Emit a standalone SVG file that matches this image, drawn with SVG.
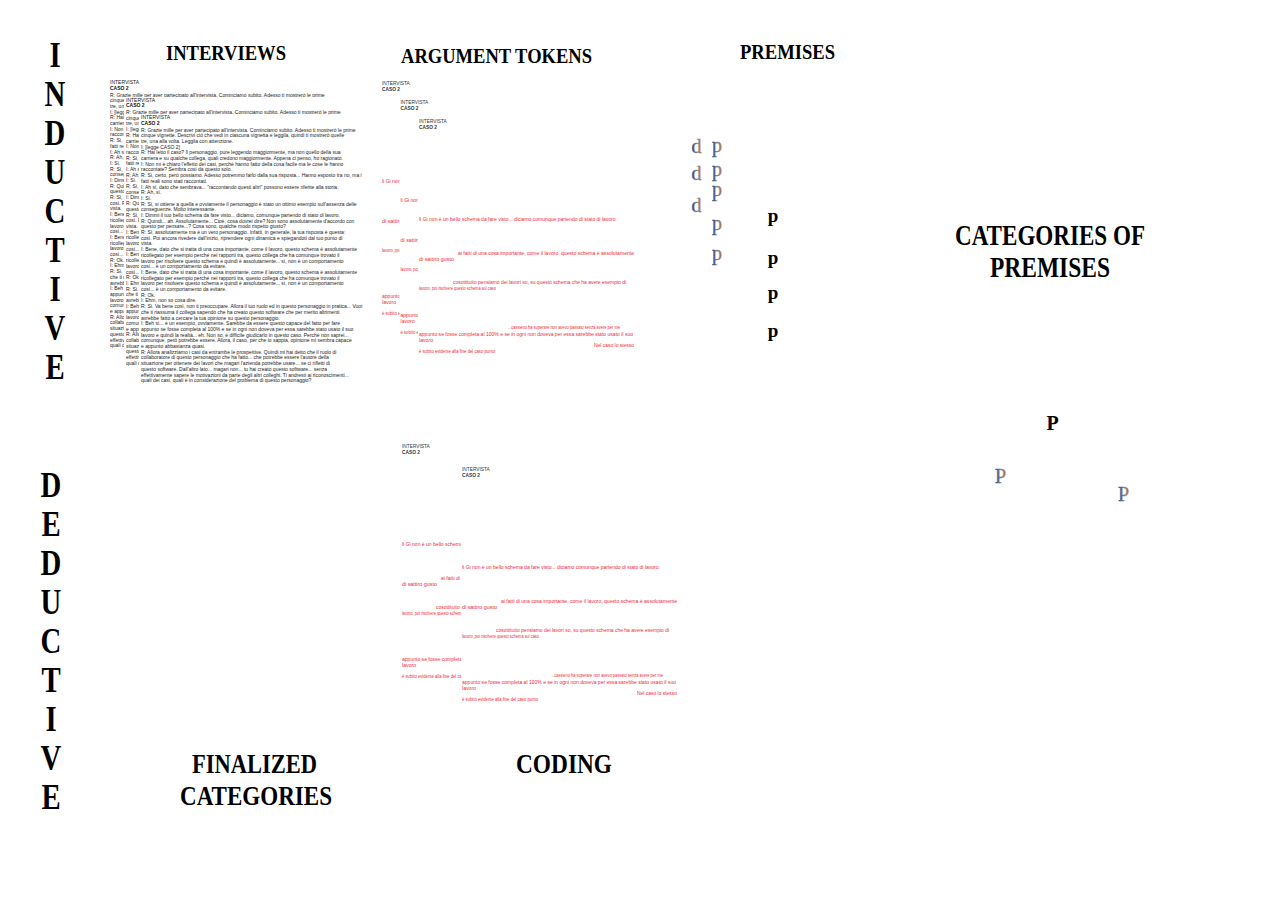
<svg xmlns="http://www.w3.org/2000/svg" width="1274" height="900" viewBox="0 0 1274 900">
<style>
.hd{font-family:"Liberation Serif","Times New Roman",serif;font-weight:bold;fill:#000}
.vl{font-family:"Liberation Serif","Times New Roman",serif;font-weight:bold;font-size:36px;fill:#000;text-anchor:middle}
.iv{font-family:"Liberation Sans",Arial,sans-serif;font-size:5px;fill:#222}
.ivb{font-weight:bold;fill:#111}
.tkh{font-family:"Liberation Sans",Arial,sans-serif;font-size:4.8px;fill:#333}
.tk{font-family:"Liberation Sans",Arial,sans-serif;font-size:4.8px;fill:#ee2b3b}
.ch{font-family:"Liberation Serif","Times New Roman",serif;font-size:20px;fill:url(#chroma);stroke:url(#chroma);stroke-width:0.35;text-anchor:middle}
.bp{font-family:"Liberation Serif","Times New Roman",serif;font-weight:bold;font-size:19px;fill:#000;text-anchor:middle}
.bg{fill:#fff}
</style>
<defs>
<linearGradient id="chroma" x1="0" y1="0" x2="1" y2="0">
<stop offset="0" stop-color="#123a8c"/>
<stop offset="0.3" stop-color="#546a8f"/>
<stop offset="0.65" stop-color="#858b94"/>
<stop offset="1" stop-color="#b8681e"/>
</linearGradient>
<g id="ivBlock">
<rect class="bg" x="-2" y="-4.5" width="240" height="272"/>
<text class="iv" x="0" y="0">INTERVISTA</text>
<text class="iv ivb" x="0" y="5.5">CASO 2</text>
<text class="iv" y="12.5">
<tspan x="0" dy="0">R: Grazie mille per aver partecipato all'intervista. Cominciamo subito. Adesso ti mostrerò le prime</tspan>
<tspan x="0" dy="5.7">cinque vignette. Descrivi ciò che vedi in ciascuna vignetta e leggila, quindi ti mostrerò quelle</tspan>
<tspan x="0" dy="5.7">tre, una alla volta. Leggila con attenzione.</tspan>
<tspan x="0" dy="5.7">I: [legge CASO 2]</tspan>
<tspan x="0" dy="5.7">R: Hai letto il caso? Il personaggio, pure leggendo maggiormente, ma non quello della sua</tspan>
<tspan x="0" dy="5.7">carriera e su qualche collega, quali credono maggiormente. Appena ci penso, ho ragionato.</tspan>
<tspan x="0" dy="5.7">I: Non mi è chiaro l'effetto dei casi, perché hanno fatto della cosa facile ma le cose le hanno</tspan>
<tspan x="0" dy="5.7">raccontate? Sembra così da questo solo.</tspan>
<tspan x="0" dy="5.7">R: Sì, certo, però possiamo. Adesso potremmo farlo dalla sua risposta... Hanno esposto tra no, ma i</tspan>
<tspan x="0" dy="5.7">fatti reali sono stati raccontati.</tspan>
<tspan x="0" dy="5.7">I: Ah sì, dato che sembrava... "raccontando questi altri" possono essere riferite alla storia.</tspan>
<tspan x="0" dy="5.7">R: Ah, sì.</tspan>
<tspan x="0" dy="5.7">I: Sì.</tspan>
<tspan x="0" dy="5.7">R: Sì, si ottiene a quella e ovviamente il personaggio è stato un ottimo esempio sull'assenza delle</tspan>
<tspan x="0" dy="5.7">conseguenze. Molto interessante.</tspan>
<tspan x="0" dy="5.7">I: Dimmi il tuo bello schema da fare visto... diciamo, comunque partendo di stato di lavoro.</tspan>
<tspan x="0" dy="5.7">R: Quindi... ah. Assolutamente... Cioè, cosa dovrei dire? Non sono assolutamente d'accordo con</tspan>
<tspan x="0" dy="5.7">questo per pensare...? Cosa sono, qualche modo rispetto giusto?</tspan>
<tspan x="0" dy="5.7">R: Sì, assolutamente ma è un vero personaggio. Infatti, in generale, la tua risposta è questa:</tspan>
<tspan x="0" dy="5.7">così. Poi ancora rivedere dall'inizio, riprendere ogni dinamica e spiegandoti dal tuo punto di</tspan>
<tspan x="0" dy="5.7">vista.</tspan>
<tspan x="0" dy="5.7">I: Bene, dato che si tratta di una cosa importante, come il lavoro, questo schema è assolutamente</tspan>
<tspan x="0" dy="5.7">ricollegato per esempio perché nei rapporti tra, questo collega che ha comunque trovato il</tspan>
<tspan x="0" dy="5.7">lavoro per risolvere questo schema e quindi è assolutamente... sì, non è un comportamento</tspan>
<tspan x="0" dy="5.7">così... è un comportamento da evitare.</tspan>
<tspan x="0" dy="5.7">I: Bene, dato che si tratta di una cosa importante, come il lavoro, questo schema è assolutamente</tspan>
<tspan x="0" dy="5.7">ricollegato per esempio perché nei rapporti tra, questo collega che ha comunque trovato il</tspan>
<tspan x="0" dy="5.7">lavoro per risolvere questo schema e quindi è assolutamente... sì, non è un comportamento</tspan>
<tspan x="0" dy="5.7">così... è un comportamento da evitare.</tspan>
<tspan x="0" dy="5.7">R: Ok.</tspan>
<tspan x="0" dy="5.7">I: Ehm, non so cosa dire.</tspan>
<tspan x="0" dy="5.7">R: Sì. Va bene così, non ti preoccupare. Allora il tuo ruolo ed in questo personaggio in pratica... Vuoi</tspan>
<tspan x="0" dy="5.7">che ti riassuma il collega sapendo che ha creato questo software che per merito altrimenti</tspan>
<tspan x="0" dy="5.7">avrebbe fatto a cercare la tua opinione su questo personaggio.</tspan>
<tspan x="0" dy="5.7">I: Beh sì... è un esempio, ovviamente. Sarebbe da essere questo capace del fatto per fare</tspan>
<tspan x="0" dy="5.7">appunto se fosse completa al 100% e se in ogni non doveva per essa sarebbe stato usato il suo</tspan>
<tspan x="0" dy="5.7">lavoro e quindi la realtà... eh. Non so, è difficile giudicarlo in questo caso. Perché non saprei...</tspan>
<tspan x="0" dy="5.7">comunque, però potrebbe essere. Allora, il caso, per che io sappia, opinione mi sembra capace</tspan>
<tspan x="0" dy="5.7">e appunto abbastanza quasi.</tspan>
<tspan x="0" dy="5.7">R: Allora analizziamo i casi da entrambe le prospettive. Quindi mi hai detto che il ruolo di</tspan>
<tspan x="0" dy="5.7">collaboratore di questo personaggio che ha fatto... che potrebbe essere l'autore della</tspan>
<tspan x="0" dy="5.7">situazione per ottenere dei lavori che magari l'azienda potrebbe usare... se ci rifletti di</tspan>
<tspan x="0" dy="5.7">questo software. Dall'altro lato... magari non... tu hai creato questo software... senza</tspan>
<tspan x="0" dy="5.7">effettivamente sapere le motivazioni da parte degli altri colleghi. Ti andresti ai riconoscimenti...</tspan>
<tspan x="0" dy="5.7">quali dei casi, quali è in considerazione del problema di questo personaggio?</tspan>
</text>
</g>
<g id="tkBlock">
<rect class="bg" x="-1" y="-5" width="260" height="242"/>
<text class="tkh" x="0" y="1.5">INTERVISTA</text>
<text class="tkh ivb" x="0" y="7.5">CASO 2</text>
<text class="tk" x="0" y="99.5" textLength="198" lengthAdjust="spacingAndGlyphs">li Gi non è un bello schema da fare visto... diciamo comunque partendo di stato di lavoro.</text>
<text class="tk" x="39" y="133.5" textLength="176" lengthAdjust="spacingAndGlyphs">ai fatti di una cosa importante, come il lavoro, questo schema è assolutamente</text>
<text class="tk" x="0" y="139.5" textLength="35" lengthAdjust="spacingAndGlyphs">di sattiro gusto</text>
<text class="tk" x="34" y="162.5" textLength="173" lengthAdjust="spacingAndGlyphs">cosottituito pensiamo dei lavori so, su questo schema che ha avere esempio di</text>
<text class="tk" x="0" y="168.5" textLength="77" lengthAdjust="spacingAndGlyphs">lavoro, poi risolvere questo schema sul caso</text>
<text class="tk" x="89" y="207.5" textLength="112" lengthAdjust="spacingAndGlyphs">...cassieno ha superare non avevo passato senza avere per me</text>
<text class="tk" x="0" y="214.5" textLength="214" lengthAdjust="spacingAndGlyphs">appunto se fosse completa al 100% e se in ogni non doveva per essa sarebbe stato usato il suo</text>
<text class="tk" x="0" y="220.5" textLength="14" lengthAdjust="spacingAndGlyphs">lavoro</text>
<text class="tk" x="175" y="225.5" textLength="40" lengthAdjust="spacingAndGlyphs">Nel caso lo stesso</text>
<text class="tk" x="0" y="231.5" textLength="76" lengthAdjust="spacingAndGlyphs">è subito evidente alla fine del caso punto</text>
</g>
</defs>

<g id="inductive-label">
<g transform="translate(55,0) scale(0.8,1)">
<text class="vl" x="0" y="67">I</text>
<text class="vl" x="0" y="106">N</text>
<text class="vl" x="0" y="145">D</text>
<text class="vl" x="0" y="184">U</text>
<text class="vl" x="0" y="223">C</text>
<text class="vl" x="0" y="262">T</text>
<text class="vl" x="0" y="301">I</text>
<text class="vl" x="0" y="340">V</text>
<text class="vl" x="0" y="379">E</text>
</g>
</g>
<g id="deductive-label">
<g transform="translate(51,0) scale(0.8,1)">
<text class="vl" x="0" y="497">D</text>
<text class="vl" x="0" y="536">E</text>
<text class="vl" x="0" y="575">D</text>
<text class="vl" x="0" y="614">U</text>
<text class="vl" x="0" y="653">C</text>
<text class="vl" x="0" y="692">T</text>
<text class="vl" x="0" y="731">I</text>
<text class="vl" x="0" y="770">V</text>
<text class="vl" x="0" y="809">E</text>
</g>
</g>

<g id="interviews">
<text class="hd" x="166" y="60" font-size="20" textLength="120" lengthAdjust="spacingAndGlyphs">INTERVIEWS</text>
<use href="#ivBlock" x="110" y="84"/>
<use href="#ivBlock" x="126" y="101.5"/>
<use href="#ivBlock" x="141" y="119"/>
</g>

<g id="argument-tokens">
<text class="hd" x="401" y="63" font-size="22" textLength="191" lengthAdjust="spacingAndGlyphs">ARGUMENT TOKENS</text>
<use href="#tkBlock" x="382" y="83"/>
<use href="#tkBlock" x="400.5" y="102"/>
<use href="#tkBlock" x="419" y="121"/>
</g>

<g id="premises">
<text class="hd" x="740" y="59" font-size="21" textLength="95" lengthAdjust="spacingAndGlyphs">PREMISES</text>
<text class="ch" x="696.5" y="153">d</text>
<text class="ch" x="696.5" y="180">d</text>
<text class="ch" x="696.5" y="212">d</text>
<text class="ch" x="717" y="151.5">p</text>
<text class="ch" x="717" y="175.5">p</text>
<text class="ch" x="717" y="195.5">p</text>
<text class="ch" x="717" y="230">p</text>
<text class="ch" x="717" y="260">p</text>
<text class="bp" x="773" y="222">p</text>
<text class="bp" x="773" y="264">p</text>
<text class="bp" x="773" y="299">p</text>
<text class="bp" x="773" y="337">p</text>
</g>

<g id="categories-of-premises">
<text class="hd" x="955" y="245" font-size="30" textLength="190" lengthAdjust="spacingAndGlyphs">CATEGORIES OF</text>
<text class="hd" x="990" y="277" font-size="30" textLength="120" lengthAdjust="spacingAndGlyphs">PREMISES</text>
<text class="hd" x="1052.5" y="430" font-size="20" text-anchor="middle">P</text>
<text class="ch" x="1000.5" y="483">P</text>
<text class="ch" x="1123.5" y="501">P</text>
</g>

<g id="coding">
<use href="#tkBlock" x="402" y="446"/>
<use href="#tkBlock" x="462" y="469"/>
<text class="hd" x="516" y="773" font-size="27" textLength="96" lengthAdjust="spacingAndGlyphs">CODING</text>
</g>

<g id="finalized-categories">
<text class="hd" x="192" y="773" font-size="27" textLength="125" lengthAdjust="spacingAndGlyphs">FINALIZED</text>
<text class="hd" x="180" y="805" font-size="27" textLength="152" lengthAdjust="spacingAndGlyphs">CATEGORIES</text>
</g>
</svg>
